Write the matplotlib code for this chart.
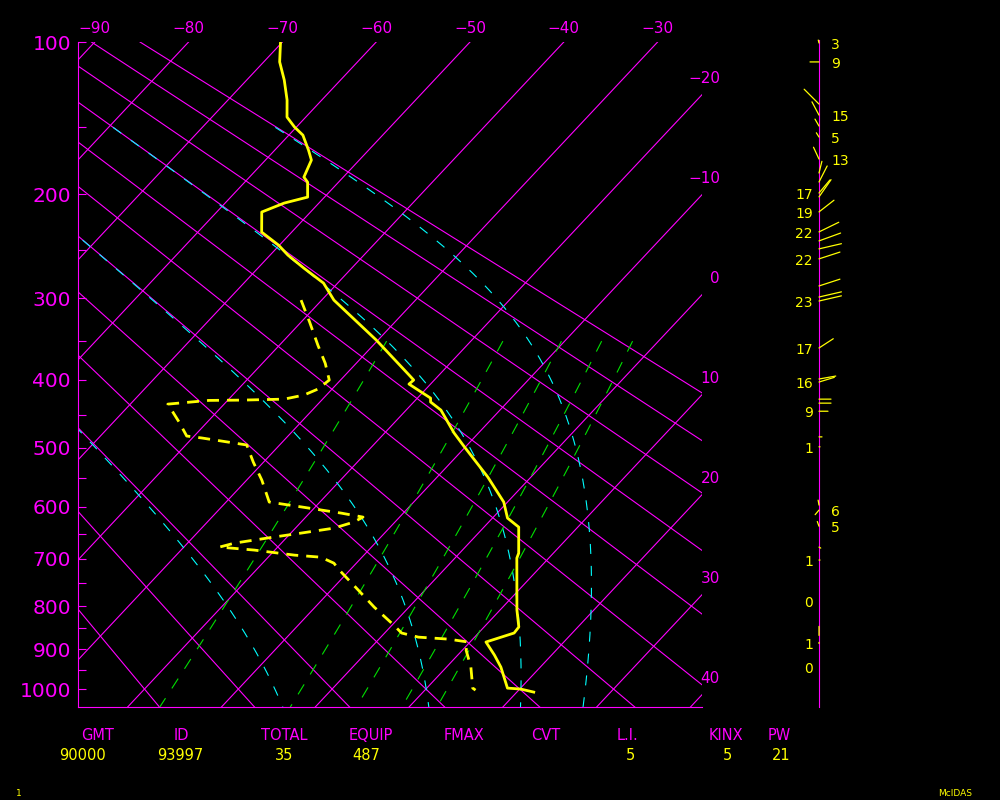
import numpy as np
import matplotlib
matplotlib.use("Agg")
import matplotlib.pyplot as plt
from matplotlib.ticker import NullFormatter

plt.rcParams['lines.scale_dashes'] = False
plt.rcParams['font.family'] = ['DejaVu Sans']

# ---- sounding (hPa, degC) ----
p_temp = [100, 110.4, 120.5, 132.4, 143.2, 149.8, 155.3, 157.3, 165.9, 173.2,
          186.2, 190.2, 202.4, 207.4, 215.1, 233.1, 245.3, 255.0, 268.0, 283.6,
          302.0, 348.6, 393.5, 400.3, 405.8, 425.3, 430.9, 442.5, 476.8, 498.6,
          548.0, 591.6, 620.8, 637.7, 688.3, 698.3, 808.7, 847.4, 861.4, 882.7,
          914.1, 944.0, 997.6, 1000, 1008]
t_temp = [-70.2, -68.3, -66.0, -63.7, -62.0, -60.2, -58.5, -58.1, -56.4, -55.1,
          -54.2, -53.3, -51.8, -53.7, -55.2, -53.2, -50.1, -48.1, -45.1, -41.5,
          -38.7, -30.2, -23.2, -22.2, -22.3, -18.6, -18.2, -16.3, -12.6, -10.1,
          -4.6, -0.4, 1.6, 3.7, 6.3, 6.6, 11.8, 13.7, 13.8, 11.7,
          13.9, 15.8, 18.6, 20.1, 21.8]

p_dewp = [302.0, 327.0, 355.0, 378.1, 400.3, 412.6, 421.0, 426.8, 428.2, 428.6,
          433.9, 460.3, 481.5, 484.5, 495.5, 523.0, 553.0, 591.6, 600.8, 611.7,
          619.0, 628.4, 639.7, 649.1, 656.7, 668.5, 676.3, 682.2, 692.3, 696.4,
          708.5, 723.0, 765.0, 802.3, 843.2, 861.4, 871.1, 875.8, 882.7, 902.3,
          944.0, 997.6, 1002.9]
t_dewp = [-42.2, -39.1, -35.9, -33.3, -31.2, -31.5, -32.4, -34.1, -38.6, -42.0,
          -46.0, -43.0, -40.8, -39.0, -33.5, -31.1, -28.4, -25.4, -21.3, -16.6,
          -13.9, -14.4, -15.9, -18.9, -21.4, -25.0, -26.2, -22.2, -17.4, -14.4,
          -12.4, -11.1, -7.1, -3.7, 0.2, 1.8, 4.0, 7.4, 9.8, 10.4,
          12.6, 14.9, 15.4]

# ---- winds: level (hPa), direction (deg), speed, label shown ----
wind_p = [100.5, 110.4, 134.9, 141.9, 149.1, 156.6, 172.4, 183.0, 190.1, 199.0,
          202.2, 215.0, 232.9, 241.3, 248.9, 258.7, 286.6, 298.6, 303.0, 358.5,
          398.9, 403.0, 426.8, 432.5, 444.2, 482.8, 498.4, 597.0, 606.1, 636.0,
          676.3, 702.2, 788.0, 846.0, 886.0, 944.0]
wind_dir = [346, 270, 315, 332, 330, 328, 335, 14, 27, 40,
            35, 52, 64, 70, 77, 72, 72, 77, 77, 57,
            80, 73, 90, 90, 90, 90, 90, 350, 220, 340,
            120, 90, 0, 180, 0, 0]
wind_spd = [3, 9, 21, 15, 8, 5, 13, 12, 18, 17,
            21, 19, 22, 23, 23, 22, 22, 23, 23, 17,
            17, 16, 12, 12, 9, 3, 1, 5, 6, 5,
            2, 1, 0, 9, 1, 0]
wind_lab = [1, 1, 0, 1, 0, 1, 1, 0, 0, 1,
            0, 1, 1, 0, 0, 1, 0, 0, 1, 1,
            0, 1, 0, 0, 1, 0, 1, 0, 1, 1,
            0, 1, 1, 0, 1, 1]

# ---- background lines ----
isotherms = list(range(-90, 50, 10))        # degC
dry_adiabats = list(range(-20, 100, 10))    # theta, degC
moist_adiabats = [0, 30, 60, 90]            # theta-e, degC
mix_ratios = [1, 3, 5, 7, 9]                # g/kg
p_major = [100, 200, 300, 400, 500, 600, 700, 800, 900, 1000]
p_minor = [150, 250, 350, 450, 550, 650, 750, 850, 950]
top_temps = [-90, -80, -70, -60, -50, -40, -30]
side_temps = [-20, -10, 0, 10, 20, 30, 40]

# ---- bottom table ----
hdr = ['GMT', 'ID', 'TOTAL', 'EQUIP', 'FMAX', 'CVT', 'L.I.', 'KINX', 'PW']
vals = ['90000', '93997', '35', '487', '', '', '5', '5', '21']
hdr_x = [98, 181, 284, 371, 464, 546, 627, 726, 779]
val_x = [83, 180, 284, 366, 464, 546, 630, 727, 781]

MAG = '#ff00ff'
YEL = '#ffff00'
CYA = '#00ffff'
GRN = '#00e000'

KAP = 0.286
U0 = 100 ** KAP
SKEW = 18.6
PBOT = 1047.6
XL, XR = -91.79, -25.27


def skx(t, p):
    return np.asarray(t, float) - SKEW * (np.asarray(p, float) ** KAP - U0)


def theta_e(t, p):
    tk = t + 273.15
    es = 6.112 * np.exp(17.67 * t / (t + 243.5))
    w = 0.622 * es / (p - es)
    return tk * (1000.0 / p) ** KAP * np.exp(2.5e6 * w / (1004.0 * tk))


def moist_t(the, p):
    lo = np.full_like(p, -120.0)
    hi = np.full_like(p, 45.0)
    for _ in range(50):
        mid = (lo + hi) / 2
        big = theta_e(mid, p) > the + 273.15
        hi = np.where(big, mid, hi)
        lo = np.where(big, lo, mid)
    return (lo + hi) / 2


def pscale(ax):
    ax.set_yscale('function', functions=(lambda p: np.abs(p) ** KAP,
                                         lambda u: np.abs(u) ** (1 / KAP)))
    ax.set_ylim(PBOT, 100)


fig = plt.figure(figsize=(10, 8), dpi=100, facecolor='black')
ax = fig.add_axes([0.078, 93 / 800, 0.624, 665 / 800])
ax.set_facecolor('black')
pscale(ax)
ax.set_xlim(XL, XR)

pp = np.linspace(100, PBOT, 200)
for t in isotherms:
    ax.plot(skx(t, pp), pp, color=MAG, lw=0.8)
for th in dry_adiabats:
    tt = (th + 273.15) * (pp / 1000.0) ** KAP - 273.15
    ax.plot(skx(tt, pp), pp, color=MAG, lw=0.8)

pm = np.linspace(150, 1050, 300)
for the in moist_adiabats:
    tt = moist_t(the, pm)
    ax.plot(skx(tt, pm), pm, color=CYA, lw=0.8, ls=(0, (7.2, 8.6)))

pw = np.linspace(350, 1050, 100)
for w in mix_ratios:
    e = w * pw / (622.0 + w)
    lg = np.log(e / 6.112)
    td = 243.5 * lg / (17.67 - lg)
    ax.plot(skx(td, pw), pw, color=GRN, lw=0.8, ls=(0, (8.4, 8.4)))

ax.plot(skx(t_temp, p_temp), p_temp, color=YEL, lw=2.0)
ax.plot(skx(t_dewp, p_dewp), p_dewp, color=YEL, lw=2.0, ls=(0, (8.6, 5.8)))

for s in ['top', 'right']:
    ax.spines[s].set_visible(False)
for s in ['left', 'bottom']:
    ax.spines[s].set_color(MAG)
    ax.spines[s].set_linewidth(0.8)
ax.set_xticks([])
ax.set_yticks(p_major)
ax.set_yticklabels([str(p) for p in p_major])
ax.set_yticks(p_minor, minor=True)
ax.yaxis.set_minor_formatter(NullFormatter())
ax.tick_params(axis='y', which='both', direction='in', length=5.8, width=0.8,
               colors=MAG, labelsize=14.5, pad=5)

for t in top_temps:
    ax.annotate(str(t).replace('-', '\u2212'), xy=(skx(t, 100), 100), xytext=(0, 14),
                textcoords='offset pixels', ha='center', va='center',
                color=MAG, fontsize=11, annotation_clip=False)
for t in side_temps:
    pr = (U0 + (t - XR) / SKEW) ** (1 / KAP)
    ax.annotate(str(t).replace('-', '\u2212'), xy=(XR, pr), xytext=(18, 16),
                textcoords='offset pixels', ha='right', va='center',
                color=MAG, fontsize=11, annotation_clip=False)

# ---- wind column ----
axw = fig.add_axes([0.76, 93 / 800, 0.12, 665 / 800])
axw.set_facecolor('none')
pscale(axw)
axw.set_xlim(-59, 61)
axw.axis('off')
axw.plot([0, 0], [PBOT, 99], color=MAG, lw=0.8, clip_on=False)
for p, d, s, lab in zip(wind_p, wind_dir, wind_spd, wind_lab):
    a = np.radians(d)
    dx, dy = s * np.sin(a), s * np.cos(a)
    if s > 0:
        axw.annotate('', xy=(0, p), xytext=(dx, dy), textcoords='offset pixels',
                     arrowprops=dict(arrowstyle='-', color=YEL, lw=0.9,
                                     shrinkA=0, shrinkB=0))
    if lab:
        if dx > 0.5 or s == 0 or (s <= 2 and dx >= 0):
            axw.annotate(str(s), xy=(0, p), xytext=(-6, -2), textcoords='offset pixels',
                         ha='right', va='center', color=YEL, fontsize=10)
        else:
            axw.annotate(str(s), xy=(0, p), xytext=(12, -2), textcoords='offset pixels',
                         ha='left', va='center', color=YEL, fontsize=10)

# ---- bottom table ----
for h, x in zip(hdr, hdr_x):
    fig.text(x / 1000, 1 - 735 / 800, h, ha='center', va='center', color=MAG, fontsize=10.5)
for v, x in zip(vals, val_x):
    fig.text(x / 1000, 1 - 755 / 800, v, ha='center', va='center', color=YEL, fontsize=10.5)
fig.text(0.019, 1 - 793 / 800, '1', ha='center', va='center', color=YEL, fontsize=6.5)
fig.text(0.955, 1 - 793 / 800, 'McIDAS', ha='center', va='center', color=YEL, fontsize=6.5)

fig.savefig('out.png', dpi=100, facecolor='black')
